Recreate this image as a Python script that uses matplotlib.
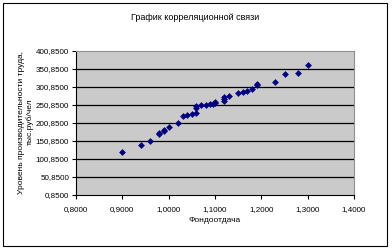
import matplotlib
matplotlib.use("Agg")
import matplotlib.pyplot as plt
from matplotlib.patches import Rectangle
from matplotlib.ticker import FixedLocator, FuncFormatter

plt.rcParams['font.family'] = ['Liberation Sans', 'DejaVu Sans']

title = "График корреляционной связи"
x_label = "Фондоотдача"
y_label = "Уровень производительности труда,\nтыс.руб/чел"

fondootdacha = [0.90, 0.94, 0.96, 0.98, 0.98, 0.99, 0.99, 1.00, 1.02, 1.03, 1.04, 1.05,
                1.06, 1.06, 1.06, 1.07, 1.08, 1.09, 1.095, 1.10, 1.10, 1.12, 1.12, 1.12,
                1.13, 1.15, 1.16, 1.17, 1.18, 1.19, 1.19, 1.23, 1.25, 1.28, 1.30]
productivity = [120, 140, 151, 169, 172, 179, 181, 190, 201, 221, 223, 226,
                229, 243, 248, 250, 252, 253, 255, 257, 259, 262, 268, 272,
                276, 283, 288, 290, 296, 306, 310, 316, 336, 341, 361]

x_ticks = [0.8, 0.9, 1.0, 1.1, 1.2, 1.3, 1.4]
y_ticks = [0.85, 50.85, 100.85, 150.85, 200.85, 250.85, 300.85, 350.85, 400.85]

fig = plt.figure(figsize=(3.92, 2.5), dpi=100)
fig.patch.set_facecolor('white')
fig.patches.append(Rectangle((3/392, 1-246/250), 384/392, 243/250, transform=fig.transFigure,
                             fill=False, edgecolor='black', linewidth=0.8))

ax = fig.add_axes([76/392, 1-195/250, 278/392, 144/250])
ax.set_facecolor('#cacaca')
ax.set_xlim(x_ticks[0], x_ticks[-1])
ax.set_ylim(y_ticks[0], y_ticks[-1])

ax.xaxis.set_major_locator(FixedLocator(x_ticks))
ax.yaxis.set_major_locator(FixedLocator(y_ticks))
ax.xaxis.set_major_formatter(FuncFormatter(lambda v, p: f"{v:.4f}".replace('.', ',')))
ax.yaxis.set_major_formatter(FuncFormatter(lambda v, p: f"{v:.4f}".replace('.', ',')))

for yv in y_ticks[1:-1]:
    ax.axhline(yv, color='black', linewidth=0.9, zorder=1)

ax.scatter(fondootdacha, productivity, marker='D', s=12, color='#000080', zorder=3, linewidths=0)

for s in ['top', 'right']:
    ax.spines[s].set_color('#909090')
    ax.spines[s].set_linewidth(0.8)
for s in ['left', 'bottom']:
    ax.spines[s].set_color('black')
    ax.spines[s].set_linewidth(0.8)

ax.tick_params(axis='both', direction='out', length=3, width=0.8, labelsize=5.8, pad=2, colors='black')
ax.tick_params(axis='x', pad=5)

fig.text(195/392, 1-18/250, title, ha='center', va='center', fontsize=6.5)
fig.text(215/392, 1-221/250, x_label, ha='center', va='center', fontsize=6)
fig.text(26/392, 1-122/250, y_label, ha='center', va='center', rotation=90, fontsize=6,
         linespacing=1.25)

fig.savefig("out.png", dpi=100)
